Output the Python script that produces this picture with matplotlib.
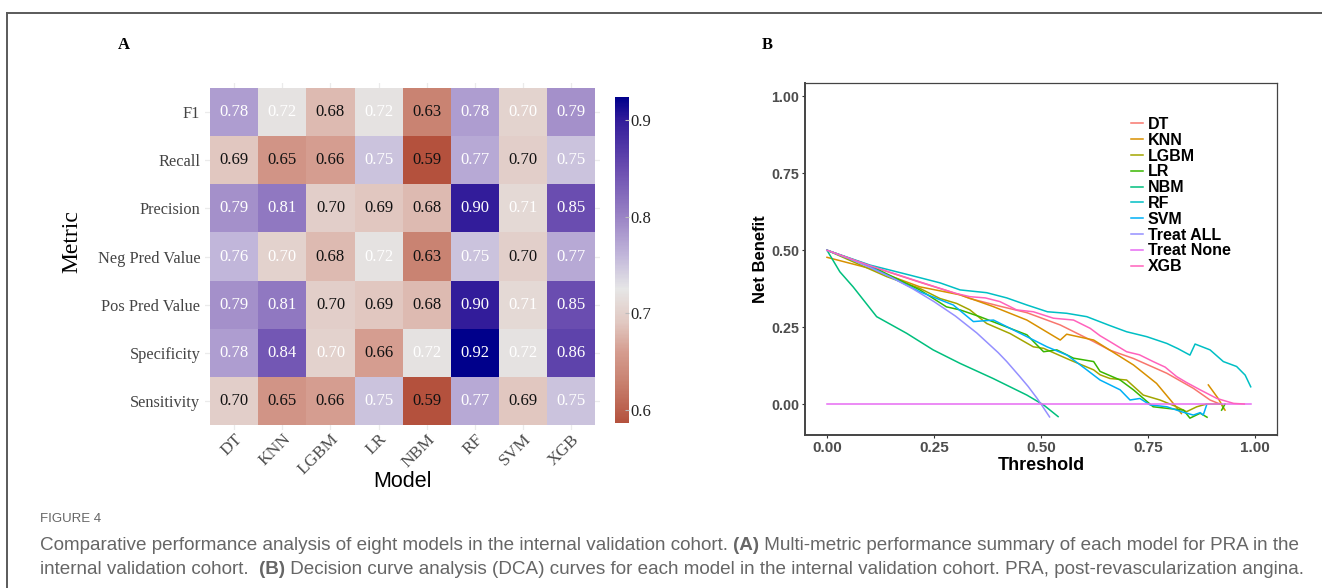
import numpy as np
import matplotlib
matplotlib.use("Agg")
import matplotlib.pyplot as plt
from matplotlib.colors import LinearSegmentedColormap, Normalize
from matplotlib.lines import Line2D

# ---- panel A: metric heatmap ----
models = ["DT", "KNN", "LGBM", "LR", "NBM", "RF", "SVM", "XGB"]
metrics = ["F1", "Recall", "Precision", "Neg Pred Value", "Pos Pred Value",
           "Specificity", "Sensitivity"]
f1 = [0.78, 0.72, 0.68, 0.72, 0.63, 0.78, 0.703, 0.79]
recall = [0.69, 0.65, 0.66, 0.75, 0.586, 0.77, 0.698, 0.75]
precision = [0.79, 0.81, 0.698, 0.69, 0.68, 0.90, 0.71, 0.85]
npv = [0.76, 0.702, 0.68, 0.72, 0.63, 0.75, 0.699, 0.77]
ppv = [0.79, 0.81, 0.698, 0.69, 0.68, 0.90, 0.71, 0.85]
specificity = [0.78, 0.84, 0.702, 0.66, 0.72, 0.924, 0.72, 0.86]
sensitivity = [0.698, 0.65, 0.66, 0.75, 0.586, 0.77, 0.69, 0.75]

# ---- panel B: decision curves ----
dt_x = [0, 0.1, 0.217, 0.311, 0.334, 0.404, 0.467, 0.545, 0.623, 0.661, 0.716, 0.794, 0.856, 0.895, 0.918]
dt_y = [0.5, 0.449, 0.396, 0.355, 0.343, 0.318, 0.297, 0.257, 0.203, 0.175, 0.148, 0.100, 0.051, 0.013, 0.0]
knn_x = [0, 0.1, 0.217, 0.311, 0.388, 0.467, 0.545, 0.56, 0.623, 0.661, 0.716, 0.77, 0.809, 0.828,
         np.nan, 0.891, 0.914, 0.930]
knn_y = [0.477, 0.441, 0.381, 0.355, 0.317, 0.273, 0.208, 0.227, 0.208, 0.175, 0.127, 0.067, 0.002, -0.031,
         np.nan, 0.062, 0.018, -0.02]
lgbm_x = [0, 0.14, 0.217, 0.264, 0.303, 0.334, 0.373, 0.428, 0.482, 0.506, 0.568, 0.623, 0.638, 0.661,
          0.70, 0.739, 0.778, 0.817, 0.840, 0.864, 0.887, 0.922, 0.926]
lgbm_y = [0.5, 0.414, 0.376, 0.343, 0.327, 0.306, 0.262, 0.229, 0.186, 0.181, 0.143, 0.111, 0.095, 0.083,
          0.078, 0.029, 0.013, -0.009, -0.025, -0.009, 0.0, 0.0, -0.015]
lr_x = [0, 0.1, 0.217, 0.279, 0.311, 0.357, 0.428, 0.467, 0.506, 0.537, 0.576, 0.623, 0.638, 0.685,
        0.716, 0.762, 0.794, 0.833, 0.848, 0.872, 0.888, np.nan, 0.922, 0.93]
lr_y = [0.5, 0.45, 0.371, 0.316, 0.306, 0.284, 0.246, 0.225, 0.17, 0.176, 0.149, 0.138, 0.106, 0.078,
        0.046, -0.009, -0.014, -0.02, -0.046, -0.03, -0.043, np.nan, -0.02, 0.0]
nbm_x = [0, 0.03, 0.061, 0.116, 0.186, 0.248, 0.311, 0.388, 0.467, 0.506, 0.54]
nbm_y = [0.5, 0.43, 0.381, 0.284, 0.23, 0.176, 0.132, 0.083, 0.029, -0.003, -0.041]
rf_x = [0, 0.1, 0.194, 0.264, 0.311, 0.373, 0.42, 0.467, 0.515, 0.56, 0.607, 0.661, 0.70, 0.747,
        0.794, 0.82, 0.848, 0.860, 0.895, 0.926, 0.957, 0.977, 0.990]
rf_y = [0.5, 0.452, 0.419, 0.394, 0.371, 0.362, 0.345, 0.322, 0.30, 0.295, 0.284, 0.255, 0.235, 0.219,
        0.197, 0.18, 0.159, 0.195, 0.176, 0.138, 0.122, 0.094, 0.056]
svm_x = [0, 0.1, 0.217, 0.295, 0.342, 0.389, 0.467, 0.514, 0.561, 0.607, 0.638, 0.685, 0.708, 0.731,
         0.755, 0.794, 0.828, 0.856, 0.872, 0.879, 0.887]
svm_y = [0.5, 0.447, 0.365, 0.322, 0.268, 0.273, 0.219, 0.186, 0.159, 0.111, 0.078, 0.046, 0.013, 0.018,
         -0.003, -0.009, -0.025, -0.036, -0.028, -0.036, -0.003]
all_x = [0, 0.05, 0.1, 0.15, 0.2, 0.25, 0.3, 0.35, 0.4, 0.42, 0.45, 0.47, 0.49, 0.5, 0.52]
all_y = [0.5, 0.474, 0.444, 0.412, 0.375, 0.333, 0.286, 0.231, 0.167, 0.138, 0.09, 0.057, 0.02, 0.0, -0.042]
none_x = [0, 0.99]
none_y = [0, 0]
xgb_x = [0, 0.1, 0.217, 0.30, 0.334, 0.37, 0.404, 0.443, 0.482, 0.529, 0.576, 0.615, 0.638, 0.661,
         0.70, 0.73, 0.762, 0.79, 0.817, 0.84, 0.872, 0.911, 0.95, 0.975]
xgb_y = [0.5, 0.45, 0.397, 0.36, 0.349, 0.345, 0.333, 0.306, 0.30, 0.279, 0.273, 0.246, 0.222, 0.203,
         0.17, 0.16, 0.138, 0.12, 0.089, 0.07, 0.046, 0.018, 0.002, 0.0]

curve_names = ["DT", "KNN", "LGBM", "LR", "NBM", "RF", "SVM", "Treat ALL", "Treat None", "XGB"]
curve_x = [dt_x, knn_x, lgbm_x, lr_x, nbm_x, rf_x, svm_x, all_x, none_x, xgb_x]
curve_y = [dt_y, knn_y, lgbm_y, lr_y, nbm_y, rf_y, svm_y, all_y, none_y, xgb_y]
curve_colors = ["#F8766D", "#D89000", "#A3A500", "#39B600", "#00BF7D",
                "#00BFC4", "#00B0F6", "#9590FF", "#E76BF3", "#FF62BC"]

serif = ["Liberation Serif", "DejaVu Serif"]
sans = ["Liberation Sans", "DejaVu Sans"]

fig = plt.figure(figsize=(13.22, 5.88), dpi=100)

# frame around the figure (top and left edge are visible)
fig.add_artist(Line2D([7 / 1322, 1.0], [1 - 13 / 588, 1 - 13 / 588], color="#5a5a5a", lw=1.4))
fig.add_artist(Line2D([7 / 1322, 7 / 1322], [0, 1 - 13 / 588], color="#5a5a5a", lw=1.4))

# ---------------- heatmap ----------------
data = np.array([f1, recall, precision, npv, ppv, specificity, sensitivity])
vmin, vmax = data.min(), data.max()
stops = [(0.586, "#B4513D"), (0.63, "#C98372"), (0.66, "#D59D90"), (0.69, "#E1C8C1"),
         (0.725, "#E6E6E6"), (0.76, "#C1B6DA"), (0.80, "#9A83C5"), (0.85, "#6A4DB0"),
         (0.90, "#321C9A"), (0.924, "#00008B")]
cmap = LinearSegmentedColormap.from_list(
    "rb", [((v - vmin) / (vmax - vmin), c) for v, c in stops])
norm = Normalize(vmin, vmax)

ax = fig.add_axes([205.2 / 1322, 1 - 429.8 / 588, 395.1 / 1322, 346.6 / 588])
ax.pcolormesh(np.arange(len(models) + 1) - 0.5, np.arange(len(metrics) + 1) - 0.5,
              data, cmap=cmap, norm=norm, zorder=2)
for i in range(len(metrics)):
    for j in range(len(models)):
        v = data[i, j]
        ax.text(j, i, f"{v:.2f}", ha="center", va="center", fontsize=12,
                family=serif, color="white" if v >= 0.70 else "#111111", zorder=3)
ax.set_xlim(-0.6, len(models) - 0.4)
ax.set_ylim(len(metrics) - 0.4, -0.6)
ax.set_xticks(range(len(models)))
ax.set_xticklabels(models, rotation=45, ha="right", va="top", rotation_mode="anchor",
                   family=serif, fontsize=12.5, color="#4D4D4D")
ax.set_yticks(range(len(metrics)))
ax.set_yticklabels(metrics, family=serif, fontsize=11.8, color="#444444")
ax.tick_params(length=0, pad=3.5)
ax.tick_params(axis="x", pad=1)
ax.grid(True, color="#EBEBEB", lw=0.9, zorder=0)
ax.set_axisbelow(True)
for s in ax.spines.values():
    s.set_visible(False)
ax.set_xlabel("Model", family=sans, fontsize=15.5, labelpad=-5)
ax.set_ylabel("Metric", family=serif, fontsize=17)
ax.yaxis.set_label_coords(-0.31, 0.542)

cax = fig.add_axes([615 / 1322, 1 - 423.3 / 588, 14.3 / 1322, 326.6 / 588])
cb = fig.colorbar(plt.cm.ScalarMappable(norm=norm, cmap=cmap), cax=cax)
cb.outline.set_visible(False)
cb.set_ticks([0.6, 0.7, 0.8, 0.9])
cb.ax.tick_params(length=3, width=0.8, color="#BBBBBB", direction="in", pad=1)
for t in cb.ax.get_yticklabels():
    t.set_family(serif)
    t.set_fontsize(12)
    t.set_color("#222222")

fig.text(124 / 1322, 1 - 45 / 588, "A", family=serif, weight="bold", fontsize=12,
         ha="center", va="center")
fig.text(767 / 1322, 1 - 45 / 588, "B", family=serif, weight="bold", fontsize=12,
         ha="center", va="center")

# ---------------- decision curves ----------------
bx = fig.add_axes([805 / 1322, 1 - 435 / 588, 472 / 1322, 352 / 588])
for name, xs, ys, col in zip(curve_names, curve_x, curve_y, curve_colors):
    bx.plot(xs, ys, color=col, lw=1.1, label=name)
bx.set_xlim(-0.0514, 1.0514)
bx.set_ylim(-0.1008, 1.0439)
ticks = [0, 0.25, 0.5, 0.75, 1.0]
bx.set_xticks(ticks)
bx.set_yticks(ticks)
bx.set_xticklabels([f"{t:.2f}" for t in ticks])
bx.set_yticklabels([f"{t:.2f}" for t in ticks])
for t in bx.get_xticklabels():
    t.set_fontsize(11)
for t in bx.get_yticklabels():
    t.set_fontsize(10.3)
for t in bx.get_xticklabels() + bx.get_yticklabels():
    t.set_family(sans)
    t.set_weight("bold")
    t.set_color("#4D4D4D")
bx.tick_params(length=2.5, width=0.8, color="#333333", pad=2)
bx.tick_params(axis="y", pad=1.5)
for s in bx.spines.values():
    s.set_color("#444444")
    s.set_linewidth(0.9)
bx.spines["left"].set_linewidth(1.4)
bx.spines["bottom"].set_linewidth(1.4)
bx.set_xlabel("Threshold", family=sans, weight="bold", fontsize=13, labelpad=1)
bx.set_ylabel("Net Benefit", family=sans, weight="bold", fontsize=12)
bx.yaxis.set_label_coords(-0.078, 0.5)
leg = bx.legend(loc="upper left", bbox_to_anchor=(1131 / 1322, 1 - 117 / 588),
                bbox_transform=fig.transFigure, frameon=False,
                prop={"family": sans, "weight": "bold", "size": 11.5},
                handlelength=0.75, handletextpad=0.3, labelspacing=0.05,
                borderpad=0, borderaxespad=0)

# ---------------- caption ----------------
cap = fig.add_axes([0, 0, 1, 1])
cap.axis("off")
cap.set_zorder(-1)
gray = "#666666"
cap.text(40 / 1322, 1 - 519 / 588, "FIGURE 4", family=sans, fontsize=9.5, color=gray,
         va="center", transform=cap.transAxes)


def caption_line(y, parts):
    prev = None
    for txt, bold in parts:
        kw = dict(family=sans, fontsize=13.58, color=gray, va="bottom",
                  weight="bold" if bold else "normal")
        if prev is None:
            prev = cap.text(40 / 1322, y, txt, transform=cap.transAxes, **kw)
        else:
            prev = cap.annotate(txt, xy=(1, 0), xycoords=prev, **kw)


caption_line(1 - 554 / 588, [
    ("Comparative performance analysis of eight models in the internal validation cohort. ", False),
    ("(A)", True),
    (" Multi-metric performance summary of each model for PRA in the", False)])
caption_line(1 - 578 / 588, [
    ("internal validation cohort.  ", False),
    ("(B)", True),
    (" Decision curve analysis (DCA) curves for each model in the internal validation cohort. "
     "PRA, post-revascularization angina.", False)])

fig.savefig("out.png", dpi=100)
